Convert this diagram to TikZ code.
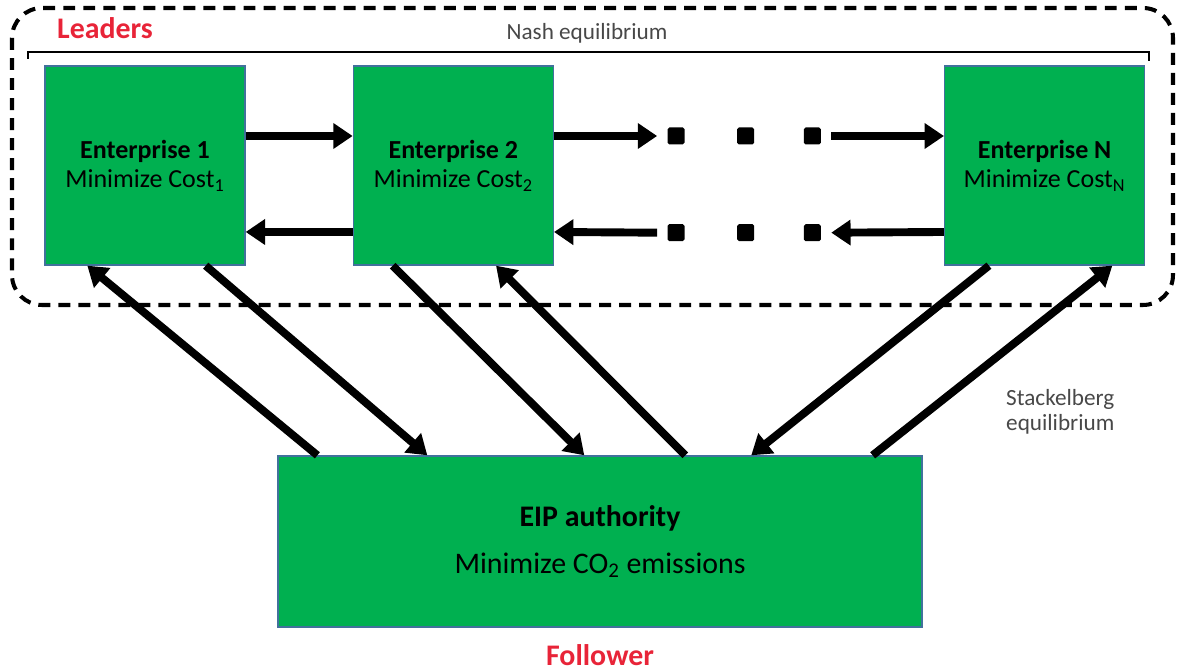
\documentclass[tikz,border=0pt]{standalone}
\usepackage{fontspec}
\setmainfont{Carlito}
\usetikzlibrary{arrows.meta, positioning}
\definecolor{boxgreen}{RGB}{0,176,80}
\definecolor{boxedge}{RGB}{65,113,156}
\definecolor{rolered}{RGB}{232,36,56}
\definecolor{notegray}{RGB}{72,72,72}

\begin{document}
\begin{tikzpicture}[x=0.02cm, y=-0.02cm,
    firm/.style={rectangle, draw=boxedge, line width=0.8pt, fill=boxgreen,
                 minimum width=4cm, minimum height=3.98cm, inner sep=0pt,
                 align=center, font=\fontsize{14.8}{16.5}\selectfont},
    gap/.style={rectangle, fill=black, minimum size=0.34cm, inner sep=0pt, rounded corners=1pt},
    flow/.style={line width=4.5pt, -{Triangle[length=11pt,width=14pt]}},
    role/.style={text=rolered, font=\fontsize{17}{20}\selectfont\bfseries},
    note/.style={text=notegray, font=\fontsize{13.2}{14.2}\selectfont, align=left}]
  \useasboundingbox (0,0) rectangle (1181,671);

  % Leaders group
  \draw[line width=2.3pt, dash pattern=on 6.8pt off 4.6pt, rounded corners=0.6cm]
    (12,8) rectangle (1173,305);
  \draw[line width=1.2pt] (28,59) -- (28,52) -- (1149,52) -- (1149,61);
  \node[role] (leaders) at (105,28) {Leaders};
  \node[note] (nash) at (587,33) {Nash equilibrium};

  % Enterprises
  \node[firm] (e1) at (145,165.5) {\textbf{Enterprise 1}\\Minimize Cost\textsubscript{1}};
  \node[firm, right=2.14cm of e1] (e2) {\textbf{Enterprise 2}\\Minimize Cost\textsubscript{2}};
  \node[firm, right=7.8cm of e2] (en) {\textbf{Enterprise N}\\Minimize Cost\textsubscript{N}};

  % the dots between 2 and N
  \node[gap] (d1) at (676,136) {};
  \node[gap, right=1.04cm of d1] (d2) {};
  \node[gap, right=0.98cm of d2] (d3) {};
  \node[gap, below=1.58cm of d1] (b1) {};
  \node[gap, below=1.58cm of d2] (b2) {};
  \node[gap, below=1.58cm of d3] (b3) {};

  % Follower
  \node[firm, minimum width=12.88cm, minimum height=3.42cm,
        font=\fontsize{17}{26.6}\selectfont] (eip) at (600,541.5)
    {\textbf{EIP authority}\\Minimize CO\textsubscript{2} emissions};
  \node[role] (follower) at (600,655) {Follower};
  \node[note, anchor=west] (stack) at (1000,412) {Stackelberg\\equilibrium};

  % Nash arrows
  \draw[flow] ([yshift=0.59cm]e1.east) -- ([yshift=0.59cm]e2.west);
  \draw[flow] ([yshift=0.59cm]e2.east) -- ([xshift=-0.2cm]d1.west);
  \draw[flow] ([xshift=0.2cm]d3.east) -- ([yshift=0.59cm]en.west);
  \draw[flow] ([yshift=-1.33cm]e2.west) -- ([yshift=-1.33cm]e1.east);
  \draw[flow] ([xshift=-0.2cm]b1.west) -- ([yshift=-1.33cm]e2.east);
  \draw[flow] ([yshift=-1.33cm]en.west) -- ([xshift=0.2cm]b3.east);

  % Stackelberg arrows
  \draw[flow] ([xshift=0.8cm]eip.north west) -- ([xshift=0.86cm]e1.south west);
  \draw[flow] ([xshift=-0.8cm]e1.south east) -- ([xshift=3cm]eip.north west);
  \draw[flow] ([xshift=0.8cm]e2.south west) -- ([xshift=6.14cm]eip.north west);
  \draw[flow] ([xshift=8.16cm]eip.north west) -- ([xshift=-1.16cm]e2.south east);
  \draw[flow] ([xshift=0.9cm]en.south west) -- ([xshift=9.48cm]eip.north west);
  \draw[flow] ([xshift=-1cm]eip.north east) -- ([xshift=-0.66cm]en.south east);
\end{tikzpicture}
\end{document}
